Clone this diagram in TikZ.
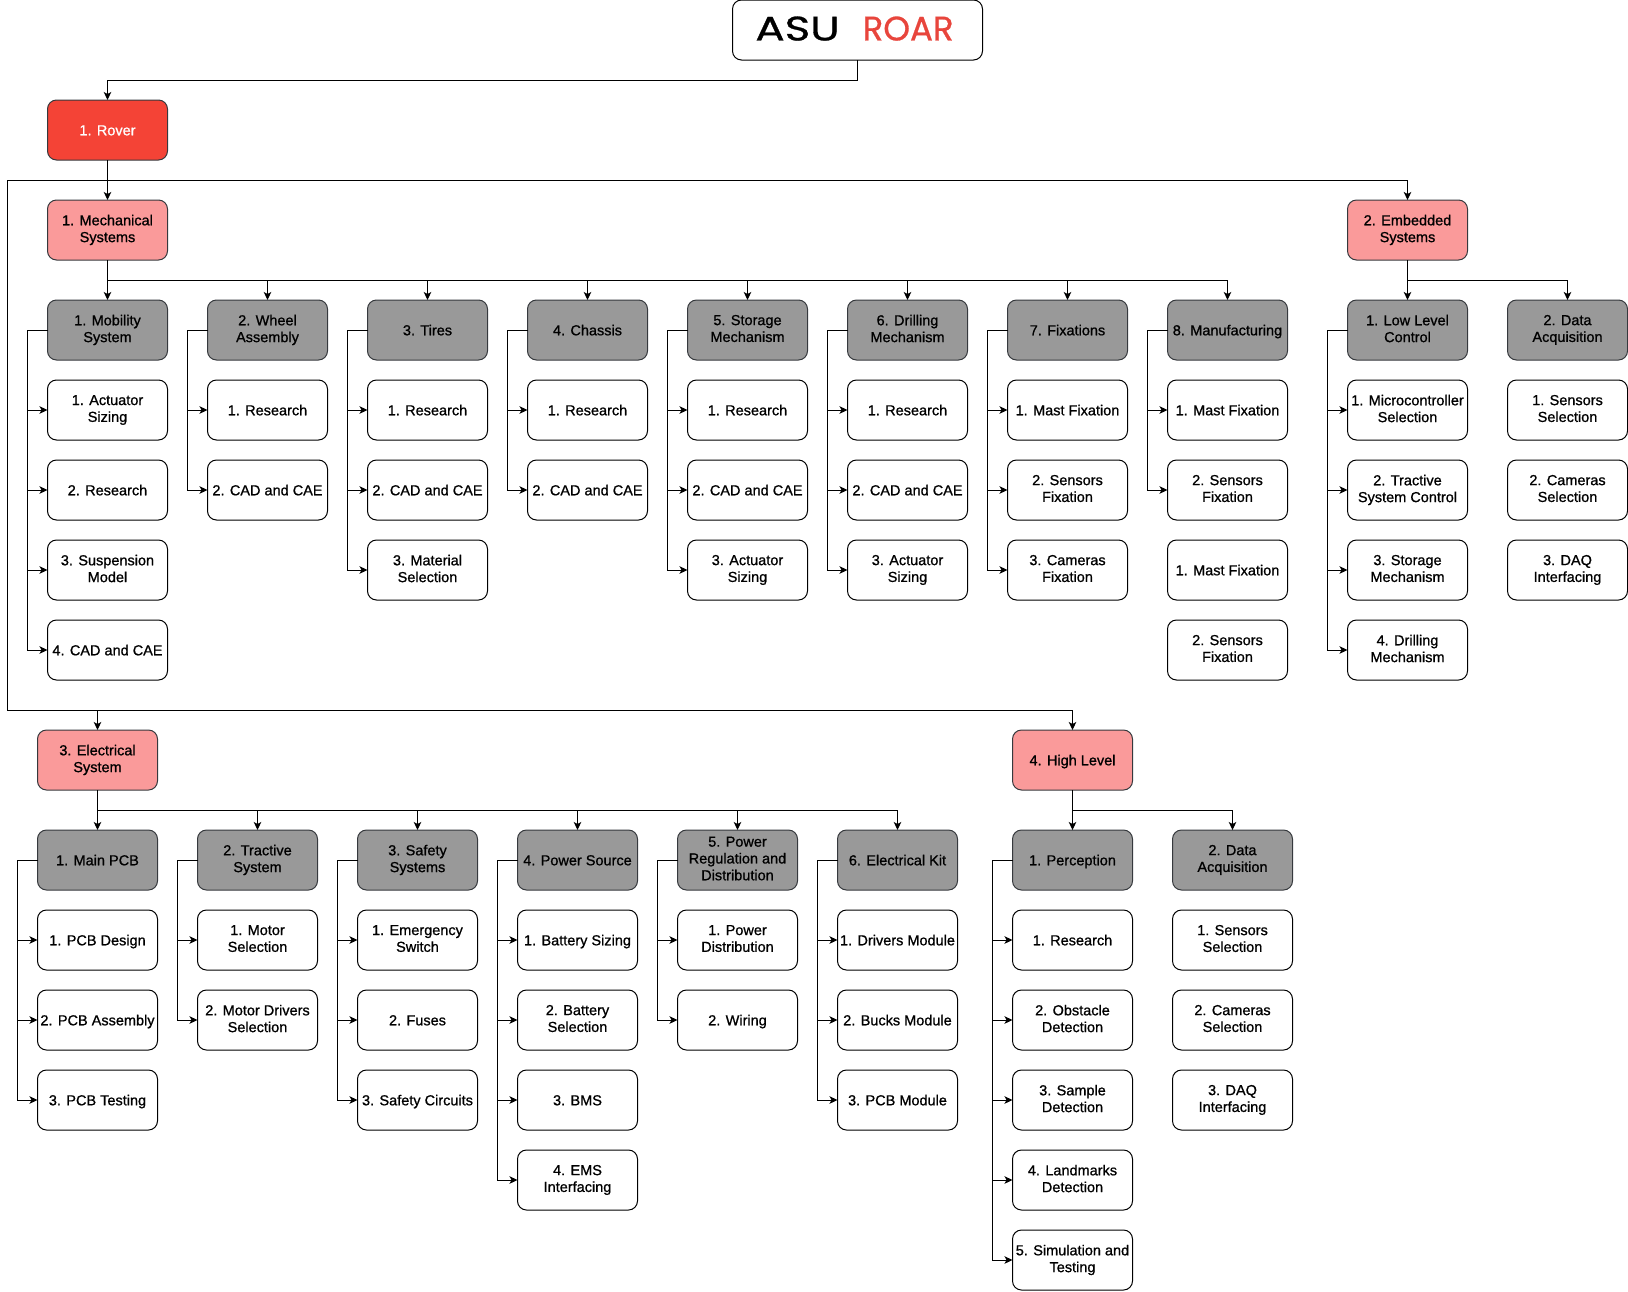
\documentclass[tikz,border=0pt]{standalone}
\usepackage{fontspec}
\newfontfamily\labelfont{Liberation Sans}[FakeBold=0.9]
\newfontfamily\logofont{Poppins}[FakeBold=0.8]
\usetikzlibrary{arrows.meta}
\usetikzlibrary{shapes}

\definecolor{roverred}{HTML}{F44336}
\definecolor{areapink}{HTML}{FA9A9A}
\definecolor{groupgrey}{HTML}{999999}
\definecolor{logored}{HTML}{E8453C}
\definecolor{edgedark}{HTML}{36393D}

\newcommand{\labelstrut}{\rule[-3.1pt]{0pt}{16.8pt}}

\tikzset{
    >={Stealth[length=8pt, width=7.5pt, inset=2pt]},
    every path/.style={line width=1pt},
    box/.style={draw=black, rounded corners=9pt, minimum width=120pt, minimum height=60pt,
        inner sep=0pt, outer sep=0pt, align=center, font=\labelfont\fontsize{14.5}{16.8}\selectfont,
        execute at begin node=\labelstrut, execute at end node=\labelstrut},
    task/.style={box, fill=white},
    group/.style={box, fill=groupgrey, draw=edgedark},
    area/.style={box, fill=areapink, draw=edgedark},
    root/.style={box, fill=roverred, draw=edgedark, text=white},
    logobox/.style={box, minimum width=250pt, fill=white}
}

\begin{document}
\begin{tikzpicture}[x=1pt, y=-1pt]
    \useasboundingbox (0,0) rectangle (1628,1291);

    \node[logobox] (L) at (857.5,30) {\logofont\fontsize{34}{34}\selectfont\scalebox{1.28}[1]{ASU}\hspace{23pt}\textcolor{logored}{ROAR}\hspace{6pt}};
    \node[root] (R) at (107.5,130) {1. Rover};

    \node[area] (M)  at (107.5,230)  {1. Mechanical\\Systems};
    \node[area] (S)  at (1407.5,230) {2. Embedded\\Systems};
    \node[area] (E)  at (97.5,760)   {3. Electrical\\System};
    \node[area] (H)  at (1072.5,760) {4. High Level};

    \node[group] (M1) at (107.5,330)  {1. Mobility\\System};
    \node[task] (M11) at (107.5,410)  {1. Actuator\\Sizing};
    \node[task] (M12) at (107.5,490)  {2. Research};
    \node[task] (M13) at (107.5,570)  {3. Suspension\\Model};
    \node[task] (M14) at (107.5,650)  {4. CAD and CAE};

    \node[group] (M2) at (267.5,330)  {2. Wheel\\Assembly};
    \node[task] (M21) at (267.5,410)  {1. Research};
    \node[task] (M22) at (267.5,490)  {2. CAD and CAE};

    \node[group] (M3) at (427.5,330)  {3. Tires};
    \node[task] (M31) at (427.5,410)  {1. Research};
    \node[task] (M32) at (427.5,490)  {2. CAD and CAE};
    \node[task] (M33) at (427.5,570)  {3. Material\\Selection};

    \node[group] (M4) at (587.5,330)  {4. Chassis};
    \node[task] (M41) at (587.5,410)  {1. Research};
    \node[task] (M42) at (587.5,490)  {2. CAD and CAE};

    \node[group] (M5) at (747.5,330)  {5. Storage\\Mechanism};
    \node[task] (M51) at (747.5,410)  {1. Research};
    \node[task] (M52) at (747.5,490)  {2. CAD and CAE};
    \node[task] (M53) at (747.5,570)  {3. Actuator\\Sizing};

    \node[group] (M6) at (907.5,330)  {6. Drilling\\Mechanism};
    \node[task] (M61) at (907.5,410)  {1. Research};
    \node[task] (M62) at (907.5,490)  {2. CAD and CAE};
    \node[task] (M63) at (907.5,570)  {3. Actuator\\Sizing};

    \node[group] (M7) at (1067.5,330) {7. Fixations};
    \node[task] (M71) at (1067.5,410) {1. Mast Fixation};
    \node[task] (M72) at (1067.5,490) {2. Sensors\\Fixation};
    \node[task] (M73) at (1067.5,570) {3. Cameras\\Fixation};

    \node[group] (M8) at (1227.5,330) {8. Manufacturing};
    \node[task] (M81) at (1227.5,410) {1. Mast Fixation};
    \node[task] (M82) at (1227.5,490) {2. Sensors\\Fixation};
    \node[task] (M83) at (1227.5,570) {1. Mast Fixation};
    \node[task] (M84) at (1227.5,650) {2. Sensors\\Fixation};

    \node[group] (S1) at (1407.5,330) {1. Low Level\\Control};
    \node[task] (S11) at (1407.5,410) {1. Microcontroller\\Selection};
    \node[task] (S12) at (1407.5,490) {2. Tractive\\System Control};
    \node[task] (S13) at (1407.5,570) {3. Storage\\Mechanism};
    \node[task] (S14) at (1407.5,650) {4. Drilling\\Mechanism};

    \node[group] (S2) at (1567.5,330) {2. Data\\Acquisition};
    \node[task] (S21) at (1567.5,410) {1. Sensors\\Selection};
    \node[task] (S22) at (1567.5,490) {2. Cameras\\Selection};
    \node[task] (S23) at (1567.5,570) {3. DAQ\\Interfacing};

    \node[group] (E1) at (97.5,860)   {1. Main PCB};
    \node[task] (E11) at (97.5,940)   {1. PCB Design};
    \node[task] (E12) at (97.5,1020)  {2. PCB Assembly};
    \node[task] (E13) at (97.5,1100)  {3. PCB Testing};

    \node[group] (E2) at (257.5,860)  {2. Tractive\\System};
    \node[task] (E21) at (257.5,940)  {1. Motor\\Selection};
    \node[task] (E22) at (257.5,1020) {2. Motor Drivers\\Selection};

    \node[group] (E3) at (417.5,860)  {3. Safety\\Systems};
    \node[task] (E31) at (417.5,940)  {1. Emergency\\Switch};
    \node[task] (E32) at (417.5,1020) {2. Fuses};
    \node[task] (E33) at (417.5,1100) {3. Safety Circuits};

    \node[group] (E4) at (577.5,860)  {4. Power Source};
    \node[task] (E41) at (577.5,940)  {1. Battery Sizing};
    \node[task] (E42) at (577.5,1020) {2. Battery\\Selection};
    \node[task] (E43) at (577.5,1100) {3. BMS};
    \node[task] (E44) at (577.5,1180) {4. EMS\\Interfacing};

    \node[group] (E5) at (737.5,860)  {5. Power\\Regulation and\\Distribution};
    \node[task] (E51) at (737.5,940)  {1. Power\\Distribution};
    \node[task] (E52) at (737.5,1020) {2. Wiring};

    \node[group] (E6) at (897.5,860)  {6. Electrical Kit};
    \node[task] (E61) at (897.5,940)  {1. Drivers Module};
    \node[task] (E62) at (897.5,1020) {2. Bucks Module};
    \node[task] (E63) at (897.5,1100) {3. PCB Module};

    \node[group] (H1) at (1072.5,860)  {1. Perception};
    \node[task] (H11) at (1072.5,940)  {1. Research};
    \node[task] (H12) at (1072.5,1020) {2. Obstacle\\Detection};
    \node[task] (H13) at (1072.5,1100) {3. Sample\\Detection};
    \node[task] (H14) at (1072.5,1180) {4. Landmarks\\Detection};
    \node[task] (H15) at (1072.5,1260) {5. Simulation and\\Testing};

    \node[group] (H2) at (1232.5,860)  {2. Data\\Acquisition};
    \node[task] (H21) at (1232.5,940)  {1. Sensors\\Selection};
    \node[task] (H22) at (1232.5,1020) {2. Cameras\\Selection};
    \node[task] (H23) at (1232.5,1100) {3. DAQ\\Interfacing};

    \draw[->] (L.south) -- ++(0,20) -| (R);
    \draw[->] (R) -- (M);
    \draw[->] (R.south) -- ++(0,20) -| (S);
    \draw[->] (R.south) -- ++(0,20) -- ++(-100,0) -- ++(0,530) -| (E);
    \draw[->] (R.south) -- ++(0,20) -- ++(-100,0) -- ++(0,530) -| (H);

    \draw[->] (M) -- (M1);
    \draw[->] (M.south) -- ++(0,20) -| (M2);
    \draw[->] (M.south) -- ++(0,20) -| (M3);
    \draw[->] (M.south) -- ++(0,20) -| (M4);
    \draw[->] (M.south) -- ++(0,20) -| (M5);
    \draw[->] (M.south) -- ++(0,20) -| (M6);
    \draw[->] (M.south) -- ++(0,20) -| (M7);
    \draw[->] (M.south) -- ++(0,20) -| (M8);

    \draw[->] (S) -- (S1);
    \draw[->] (S.south) -- ++(0,20) -| (S2);

    \draw[->] (E) -- (E1);
    \draw[->] (E.south) -- ++(0,20) -| (E2);
    \draw[->] (E.south) -- ++(0,20) -| (E3);
    \draw[->] (E.south) -- ++(0,20) -| (E4);
    \draw[->] (E.south) -- ++(0,20) -| (E5);
    \draw[->] (E.south) -- ++(0,20) -| (E6);

    \draw[->] (H) -- (H1);
    \draw[->] (H.south) -- ++(0,20) -| (H2);

    \draw[->] (M1.west) -- ++(-20,0) |- (M11);
    \draw[->] (M1.west) -- ++(-20,0) |- (M12);
    \draw[->] (M1.west) -- ++(-20,0) |- (M13);
    \draw[->] (M1.west) -- ++(-20,0) |- (M14);

    \draw[->] (M2.west) -- ++(-20,0) |- (M21);
    \draw[->] (M2.west) -- ++(-20,0) |- (M22);

    \draw[->] (M3.west) -- ++(-20,0) |- (M31);
    \draw[->] (M3.west) -- ++(-20,0) |- (M32);
    \draw[->] (M3.west) -- ++(-20,0) |- (M33);

    \draw[->] (M4.west) -- ++(-20,0) |- (M41);
    \draw[->] (M4.west) -- ++(-20,0) |- (M42);

    \draw[->] (M5.west) -- ++(-20,0) |- (M51);
    \draw[->] (M5.west) -- ++(-20,0) |- (M52);
    \draw[->] (M5.west) -- ++(-20,0) |- (M53);

    \draw[->] (M6.west) -- ++(-20,0) |- (M61);
    \draw[->] (M6.west) -- ++(-20,0) |- (M62);
    \draw[->] (M6.west) -- ++(-20,0) |- (M63);

    \draw[->] (M7.west) -- ++(-20,0) |- (M71);
    \draw[->] (M7.west) -- ++(-20,0) |- (M72);
    \draw[->] (M7.west) -- ++(-20,0) |- (M73);

    \draw[->] (M8.west) -- ++(-20,0) |- (M81);
    \draw[->] (M8.west) -- ++(-20,0) |- (M82);

    \draw[->] (S1.west) -- ++(-20,0) |- (S11);
    \draw[->] (S1.west) -- ++(-20,0) |- (S12);
    \draw[->] (S1.west) -- ++(-20,0) |- (S13);
    \draw[->] (S1.west) -- ++(-20,0) |- (S14);

    \draw[->] (E1.west) -- ++(-20,0) |- (E11);
    \draw[->] (E1.west) -- ++(-20,0) |- (E12);
    \draw[->] (E1.west) -- ++(-20,0) |- (E13);

    \draw[->] (E2.west) -- ++(-20,0) |- (E21);
    \draw[->] (E2.west) -- ++(-20,0) |- (E22);

    \draw[->] (E3.west) -- ++(-20,0) |- (E31);
    \draw[->] (E3.west) -- ++(-20,0) |- (E32);
    \draw[->] (E3.west) -- ++(-20,0) |- (E33);

    \draw[->] (E4.west) -- ++(-20,0) |- (E41);
    \draw[->] (E4.west) -- ++(-20,0) |- (E42);
    \draw[->] (E4.west) -- ++(-20,0) |- (E43);
    \draw[->] (E4.west) -- ++(-20,0) |- (E44);

    \draw[->] (E5.west) -- ++(-20,0) |- (E51);
    \draw[->] (E5.west) -- ++(-20,0) |- (E52);

    \draw[->] (E6.west) -- ++(-20,0) |- (E61);
    \draw[->] (E6.west) -- ++(-20,0) |- (E62);
    \draw[->] (E6.west) -- ++(-20,0) |- (E63);

    \draw[->] (H1.west) -- ++(-20,0) |- (H11);
    \draw[->] (H1.west) -- ++(-20,0) |- (H12);
    \draw[->] (H1.west) -- ++(-20,0) |- (H13);
    \draw[->] (H1.west) -- ++(-20,0) |- (H14);
    \draw[->] (H1.west) -- ++(-20,0) |- (H15);

\end{tikzpicture}
\end{document}
